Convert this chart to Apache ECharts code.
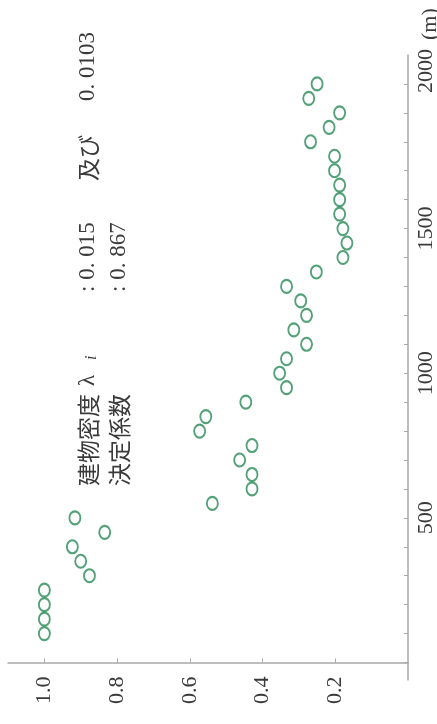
<!DOCTYPE html>
<html>
<head>
<meta charset="utf-8">
<script src="https://cdn.jsdelivr.net/npm/echarts@6/dist/echarts.min.js"></script>
<style>
  html, body { margin: 0; padding: 0; background: #fff; }
  #chart { width: 437px; height: 724px; }
</style>
</head>
<body>
<div id="chart"></div>
<script>
// Distance from the site (m) and the corresponding building-density ratio
const distances = [100, 150, 200, 250, 300, 350, 400, 450, 500, 550, 600, 650, 700, 750,
  800, 850, 900, 950, 1000, 1050, 1100, 1150, 1200, 1250, 1300, 1350, 1400, 1450,
  1500, 1550, 1600, 1650, 1700, 1750, 1800, 1850, 1900, 1950, 2000];
const ratios = [1.0, 1.0, 1.0, 1.0, 0.876, 0.90, 0.923, 0.834, 0.916, 0.538, 0.429, 0.429,
  0.463, 0.429, 0.573, 0.556, 0.446, 0.334, 0.353, 0.334, 0.279, 0.314, 0.279, 0.295,
  0.334, 0.252, 0.179, 0.168, 0.179, 0.188, 0.188, 0.188, 0.202, 0.202, 0.268, 0.217,
  0.188, 0.273, 0.250];
const ratioTicks = [0.2, 0.4, 0.6, 0.8, 1.0];
const distanceLabels = [500, 1000, 1500, 2000];

const points = distances.map((d, i) => [ratios[i], d]);

const chart = echarts.init(document.getElementById('chart'));
const serif = '"Liberation Serif", "DejaVu Serif", serif';
const cjk = '"Noto Sans CJK JP", sans-serif';
const axisColor = '#a8a8a8';
const textColor = '#3a3a3a';

chart.setOption({
  animation: false,
  grid: { left: 8, right: 25, top: 55, bottom: 61.5 },
  xAxis: {
    type: 'value',
    inverse: true,
    min: 0,
    max: 1.1,
    axisLine: { lineStyle: { color: axisColor, width: 1.5 } },
    axisTick: { show: true, inside: true, length: 4, customValues: ratioTicks,
      lineStyle: { color: axisColor } },
    axisLabel: {
      customValues: ratioTicks,
      rotate: 90, margin: 14,
      fontFamily: serif, fontSize: 22, color: textColor,
      formatter: v => v.toFixed(1)
    },
    splitLine: { show: false }
  },
  yAxis: {
    type: 'value',
    position: 'right',
    min: 0,
    max: 2100,
    interval: 100,
    axisLine: { show: true, lineStyle: { color: axisColor, width: 1.5 } },
    axisTick: { show: true, inside: true, length: 4, lineStyle: { color: axisColor } },
    axisLabel: {
      rotate: 90, margin: 7,
      fontFamily: serif, fontSize: 22, color: textColor,
      showMaxLabel: false,
      formatter: v => {
        if (v === 2000) return '{last|2000}';
        return distanceLabels.indexOf(v) >= 0 ? String(v) : '';
      },
      rich: {
        last: { fontFamily: serif, fontSize: 22, color: textColor, padding: [0, 0, 0, 26] }
      }
    },
    splitLine: { show: false }
  },
  series: [{
    type: 'scatter',
    data: points,
    symbol: 'emptyCircle',
    symbolSize: [11, 13],
    itemStyle: { color: '#278a55', borderColor: '#278a55', borderWidth: 2 }
  }]
});

// Rotated annotation texts (read bottom to top)
function vtext(x, y, text, font, size, extra) {
  return Object.assign({
    type: 'text', x: x, y: y, rotation: Math.PI / 2,
    style: { text: text, fontFamily: font, fontSize: size, fill: textColor,
      align: 'left', verticalAlign: 'middle' }
  }, extra || {});
}

const x0 = chart.convertToPixel({ xAxisIndex: 0 }, 0);
const yZero = chart.convertToPixel({ yAxisIndex: 0 }, 0);

chart.setOption({
  graphic: [
    // axis line continuing a little below the origin
    { type: 'line', shape: { x1: x0, y1: yZero, x2: x0, y2: yZero + 18 },
      style: { stroke: axisColor, lineWidth: 1.5 } },
    vtext(430, 40, '(m)', serif, 22),
    vtext(88, 486, '建物密度', cjk, 23),
    vtext(88, 386, 'λ', serif, 23),
    { type: 'text', x: 92, y: 360, rotation: Math.PI / 2,
      style: { text: 'i', fontFamily: serif, fontStyle: 'italic', fontSize: 16,
        fill: textColor, align: 'left', verticalAlign: 'middle' } },
    vtext(88, 292, ': 0. 015', serif, 23),
    vtext(88, 181, '及び', cjk, 23),
    vtext(88, 101, '0. 0103', serif, 23),
    vtext(119, 486, '決定係数', cjk, 23),
    vtext(119, 292, ': 0. 867', serif, 23)
  ]
});
</script>
</body>
</html>
